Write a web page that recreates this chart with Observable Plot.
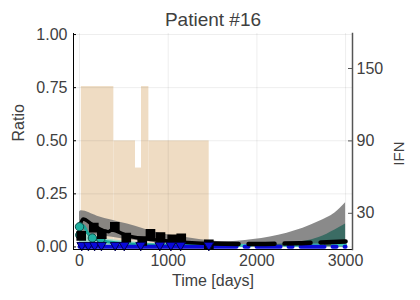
<!DOCTYPE html>
<html><head><meta charset="utf-8">
<script src="https://cdn.jsdelivr.net/npm/d3@7"></script>
<script src="https://cdn.jsdelivr.net/npm/@observablehq/plot@0.6"></script>
<style>body{margin:0;background:#fff}</style>
</head><body><div id="chart"></div>
<script>
// ---- data ----
const title = "Patient #16";
const xTicks = [0, 1000, 2000, 3000];
const yTicks = [0, 0.25, 0.5, 0.75, 1.0];
const ifnTicks = [30, 90, 150];

// IFN dosing periods (days) and dose
const ifnStart = [20, 387, 631, 699, 782];
const ifnEnd   = [387, 631, 699, 782, 1462];
const ifnDose  = [135, 90, 67.5, 135, 90];

// observed ratio (black squares)
const obsDays  = [19, 161, 251, 398, 527, 707, 800, 913, 1045, 1147, 1458];
const obsRatio = [0.052, 0.091, 0.060, 0.095, 0.044, 0.028, 0.062, 0.047, 0.036, 0.041, 0.012];

// teal observations (circles)
const tealDays  = [0, 3, 145, 240];
const tealRatio = [0.095, 0.056, 0.042, 0.038];

// blue observations (down triangles)
const blueDays  = [25, 100, 170, 247, 402, 504, 690, 905, 1030, 1140, 1458];
const blueRatio = [0.008, 0.008, 0.008, 0.008, 0.008, 0.008, 0.008, 0.008, 0.008, 0.008, 0.008];

// black model fit (solid) and prediction (dashed)
const blackFitDays  = [0, 40, 140, 270, 330, 360, 540, 760, 1100, 1500];
const blackFit      = [0.095, 0.132, 0.107, 0.077, 0.072, 0.080, 0.053, 0.037, 0.025, 0.016];
const blackPredDays = [1500, 2000, 2500, 3000];
const blackPred     = [0.016, 0.014, 0.018, 0.026];

// gray confidence band of black model
const grayDays = [0, 20, 200, 540, 900, 1200, 1500, 1600, 1960, 2340, 2700, 2880, 3000];
const grayHi   = [0.165, 0.17, 0.145, 0.108, 0.065, 0.045, 0.028, 0.024, 0.035, 0.065, 0.12, 0.16, 0.208];
const grayLo   = [0.06, 0.06, 0.055, 0.035, 0.02, 0.014, 0.01, 0.009, 0.006, 0.004, 0.002, 0.001, 0.0];

// teal confidence band
const tealBandDays = [0, 100, 300, 500, 800, 1100, 1500, 2000, 2340, 2700, 2880, 3000];
const tealBandHi   = [0.07, 0.05, 0.038, 0.028, 0.018, 0.01, 0.006, 0.008, 0.016, 0.044, 0.08, 0.108];

// teal model
const tealFitDays  = [0, 40, 100, 200, 400, 700, 1000, 1500];
const tealFit      = [0.085, 0.1, 0.06, 0.035, 0.02, 0.012, 0.009, 0.007];
const tealPredDays = [1500, 2000, 2500, 3000];
const tealPred     = [0.007, 0.007, 0.008, 0.01];

// blue model
const blueFitDays  = [0, 1500];
const blueFit      = [0.001, 0.001];
const bluePredDays = [1500, 3000];
const bluePred     = [0.001, 0.001];

// ---- scales ----
const Y0 = -0.012, Y1 = 1.005, IFNMAX = 179;
const K = (Y1 - Y0) / IFNMAX;
const toRatio = v => Y0 + v * K;

const zip = (xs, ys) => xs.map((x, i) => ({x, y: ys[i]}));
const ifnRects = ifnStart.map((s, i) => ({x1: s, x2: ifnEnd[i], y: toRatio(ifnDose[i])}));
const grayBand = grayDays.map((d, i) => ({x: d, lo: grayLo[i], hi: grayHi[i]}));
const tealBand = tealBandDays.map((d, i) => ({x: d, hi: tealBandHi[i]}));

const FRAMEW = 352 - 73;
const txt = "#404040";

const plot = Plot.plot({
  width: 420, height: 300,
  marginLeft: 73, marginRight: 68, marginTop: 33, marginBottom: 51,
  style: {fontFamily: "Liberation Sans, Arial, sans-serif", fontSize: "16px", color: txt, background: "#fff"},
  x: {domain: [-68, 3078]},
  y: {domain: [Y0, Y1]},
  marks: [
    Plot.rectY(ifnRects, {x1: "x1", x2: "x2", y1: Y0, y2: "y", fill: "#efdcc3"}),
    Plot.gridX(xTicks, {stroke: "#000", strokeOpacity: 0.07}),
    Plot.gridY(yTicks, {stroke: "#000", strokeOpacity: 0.07}),
    Plot.areaY(grayBand, {x: "x", y1: "lo", y2: "hi", fill: "#767676", fillOpacity: 0.85, curve: "monotone-x"}),
    Plot.areaY(tealBand.filter(d => d.x <= 1500), {x: "x", y1: 0, y2: "hi", fill: "#a3dccb", curve: "monotone-x"}),
    Plot.areaY(tealBand.filter(d => d.x >= 1500), {x: "x", y1: 0, y2: "hi", fill: "#3b6c64", curve: "monotone-x"}),
    Plot.line(zip(tealFitDays, tealFit), {x: "x", y: "y", stroke: "#1aa89a", strokeWidth: 3, curve: "monotone-x"}),
    Plot.line(zip(tealPredDays, tealPred), {x: "x", y: "y", stroke: "#40c4b4", strokeWidth: 3, strokeDasharray: "14,10", curve: "monotone-x"}),
    Plot.line(zip(blueFitDays, blueFit), {x: "x", y: "y", stroke: "#0a0ad8", strokeWidth: 4}),
    Plot.line(zip(bluePredDays, bluePred), {x: "x", y: "y", stroke: "#0a0ad8", strokeWidth: 4, strokeDasharray: "24,8,4,8"}),
    Plot.line(zip(blackFitDays, blackFit), {x: "x", y: "y", stroke: "#000", strokeWidth: 3.5, curve: "monotone-x"}),
    Plot.line(zip(blackPredDays, blackPred), {x: "x", y: "y", stroke: "#000", strokeWidth: 4.5, strokeDasharray: "26,10", curve: "monotone-x"}),
    Plot.dot(zip(tealDays, tealRatio), {x: "x", y: "y", r: 4.2, fill: "#1fb0a0", stroke: "#0a4a44", strokeWidth: 1}),
    Plot.dot(zip(obsDays, obsRatio), {x: "x", y: "y", symbol: "square", r: 4.6, fill: "#000", stroke: "#000"}),
    Plot.dot(zip(blueDays, blueRatio), {x: "x", y: "y", symbol: "triangle", rotate: 180, r: 3.6, fill: "#0a0ad8", stroke: "#000050", strokeWidth: 1}),
    // axes
    Plot.frame({anchor: "left", stroke: "#000"}),
    Plot.frame({anchor: "bottom", stroke: "#000"}),
    Plot.frame({anchor: "right", stroke: "#555", strokeWidth: 1.5}),
    Plot.tickY(yTicks, {y: d => d, insetRight: FRAMEW - 3, stroke: "#000"}),
    Plot.tickY(ifnTicks.map(toRatio), {y: d => d, insetLeft: FRAMEW - 4, stroke: "#555"}),
    Plot.axisY(yTicks, {anchor: "left", tickSize: 0, tickPadding: 6, label: null, tickFormat: d3.format(".2f"), fill: txt}),
    Plot.axisY(ifnTicks.map(toRatio), {anchor: "right", tickSize: 0, tickPadding: 4, label: null, tickFormat: d => Math.round((d - Y0) / K), fill: txt}),
    Plot.axisX(xTicks, {anchor: "bottom", tickSize: 0, tickPadding: 5, label: null, tickFormat: d => String(d), fill: txt}),
    Plot.text([title], {frameAnchor: "top", dy: -21, fontSize: 19, fill: txt}),
    Plot.text(["Ratio"], {frameAnchor: "left", dx: -55, rotate: -90, fontSize: 16, fill: txt}),
    Plot.text(["IFN"], {frameAnchor: "right", dx: 47, rotate: -90, fontSize: 15, fill: txt}),
    Plot.text(["Time [days]"], {frameAnchor: "bottom", dy: 36, fontSize: 16, fill: txt})
  ]
});
document.getElementById("chart").appendChild(plot);
</script>
</body></html>
